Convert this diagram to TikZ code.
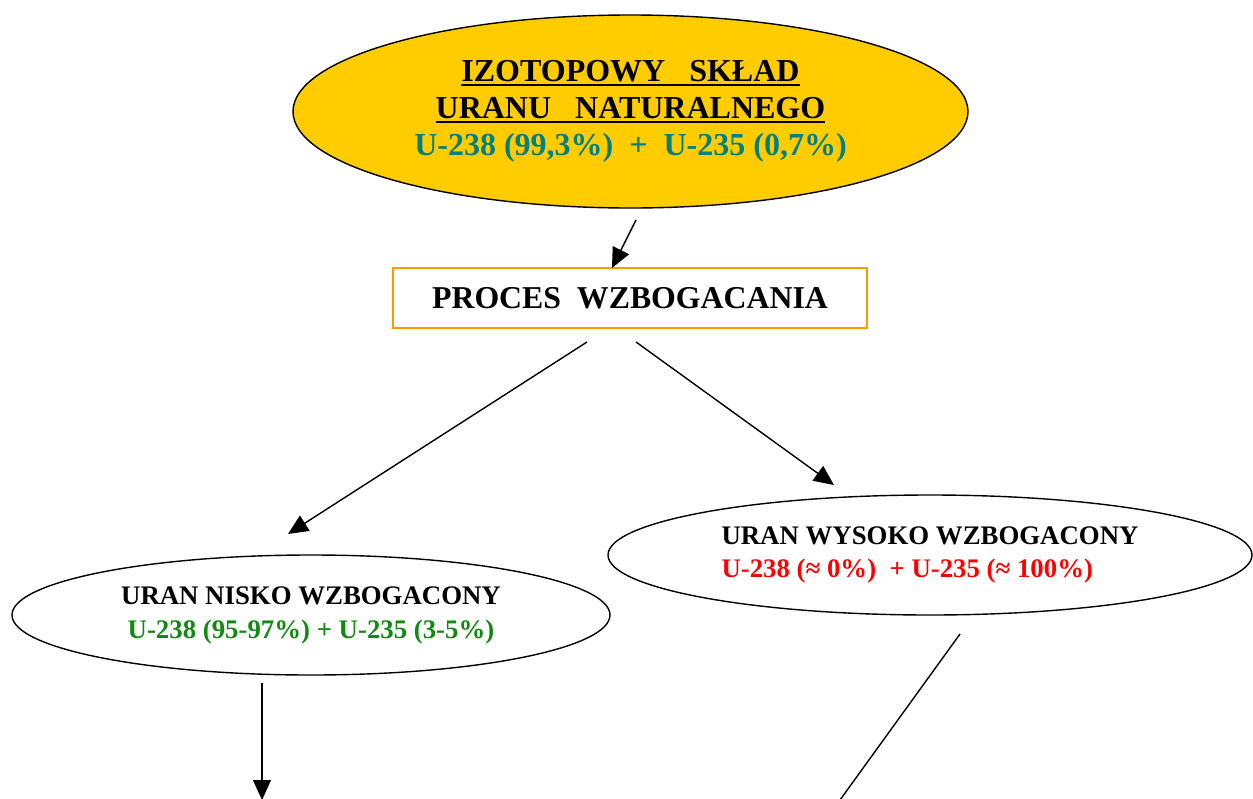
\documentclass[tikz,border=0pt]{standalone}
\usepackage{fontspec}
\setmainfont{Liberation Serif}
\usetikzlibrary{shapes.geometric,arrows.meta}
\definecolor{gold}{HTML}{FFCC00}
\definecolor{tealtxt}{HTML}{008080}
\definecolor{greentxt}{HTML}{128A12}
\definecolor{redtxt}{HTML}{FF0000}
\definecolor{boxorange}{HTML}{FF9900}
\newcommand\myuline[1]{\leavevmode\setbox0\hbox{#1}\rlap{\copy0}\rule[-4.5pt]{\wd0}{2.5pt}}
\tikzset{
  oval/.style={ellipse, draw=black, line width=1.4pt, inner sep=0pt, align=center},
  procbox/.style={rectangle, draw=boxorange, line width=1.3pt, inner sep=0pt, align=center},
  arr/.style={line width=1.4pt, -{Triangle[length=20pt,width=18pt]}},
  plain/.style={line width=1.4pt}
}
\begin{document}
\begin{tikzpicture}[x=1pt,y=-1pt]
\useasboundingbox (0,0) rectangle (1253,798);
\clip (0,0) rectangle (1253,798);
\node[oval, fill=gold, minimum width=675pt, minimum height=193pt,
      font=\fontsize{32}{37}\selectfont\bfseries] (top) at (630.5,111.5)
  {\myuline{IZOTOPOWY\ \ \ SKŁAD}\\
   \myuline{URANU\ \ \ NATURALNEGO}\\
   \textcolor{tealtxt}{U-238 (99,3\%)\ \ +\ \ U-235 (0,7\%)}\\[-30pt]\mbox{}};
\node[procbox, minimum width=474pt, minimum height=60pt,
      font=\fontsize{31.8}{36}\selectfont\bfseries] (proc) at (630,298)
  {PROCES\ \ WZBOGACANIA};
\node[oval, fill=white, minimum width=598pt, minimum height=120pt,
      font=\fontsize{26.8}{34}\selectfont\bfseries] (low) at (311,615)
  {URAN NISKO WZBOGACONY\\
   \textcolor{greentxt}{U-238 (95-97\%) + U-235 (3-5\%)}};
\node[oval, fill=white, minimum width=644pt, minimum height=120pt,
      font=\fontsize{26.8}{33}\selectfont\bfseries, align=left] (high) at (930,555)
  {URAN WYSOKO WZBOGACONY\\
   \textcolor{redtxt}{U-238 (≈ 0\%)\ \ + U-235 (≈ 100\%)}};
\coordinate (a1s) at (636,220);
\coordinate (a1e) at (612,268);
\coordinate (a2s) at (587,342);
\coordinate (a2e) at (288,534);
\coordinate (a3s) at (636,342);
\coordinate (a3e) at (834,485);
\coordinate (a4s) at (262,683);
\coordinate (a4e) at (262,800);
\coordinate (a5s) at (960,634);
\coordinate (a5e) at (840,800);
\draw[arr] (a1s) -- (a1e);
\draw[arr] (a2s) -- (a2e);
\draw[arr] (a3s) -- (a3e);
\draw[arr] (a4s) -- (a4e);
\draw[plain] (a5s) -- (a5e);
\end{tikzpicture}
\end{document}
